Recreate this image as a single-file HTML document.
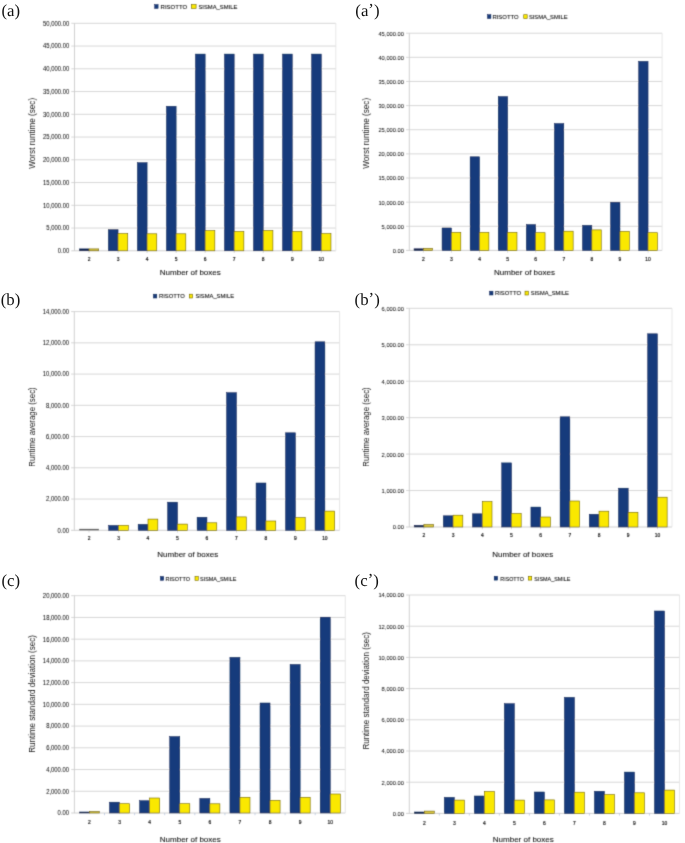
<!DOCTYPE html>
<html><head><meta charset="utf-8"><style>
html,body{margin:0;padding:0;background:#fff;}
body{width:685px;height:843px;overflow:hidden;}
svg{display:block;}

.pl{font-family:"Liberation Serif",serif;stroke:none;fill:#111;text-rendering:geometricPrecision;}
text{font-family:"Liberation Sans",sans-serif;fill:#1a1a1a;}
.yl{fill:#1e1e1e;stroke:#1e1e1e;stroke-width:0.06px;}
.xl{fill:#111;stroke:#111;stroke-width:0.2px;}
.tt{fill:#151515;stroke:#151515;stroke-width:0.1px;}
.yt{fill:#1a1a1a;}
.lg{fill:#1a1a1a;stroke:#1a1a1a;stroke-width:0.12px;}
</style></head><body>
<svg width="685" height="843" viewBox="0 0 685 843">
<defs><filter id="bl" x="0" y="0" width="100%" height="100%" filterUnits="userSpaceOnUse"><feConvolveMatrix order="3" kernelMatrix="0.0367 0.1915 0.0367 0.1915 1 0.1915 0.0367 0.1915 0.0367" divisor="1.9127" edgeMode="none" preserveAlpha="false"/></filter><filter id="id0" x="0" y="0" width="100%" height="100%" filterUnits="userSpaceOnUse"><feOffset dx="0" dy="0"/></filter></defs>
<rect width="685" height="843" fill="#fff"/>
<g id="g" filter="url(#bl)">
<line x1="71.30" y1="250.80" x2="335.80" y2="250.80" stroke="#cccccc" stroke-width="0.9"/>
<text class="yl" x="69.20" y="253.20" text-anchor="end" font-size="6.37" textLength="11.48" lengthAdjust="spacingAndGlyphs">0.00</text>
<line x1="71.30" y1="228.05" x2="335.80" y2="228.05" stroke="#d2d2d2" stroke-width="0.9"/>
<text class="yl" x="69.20" y="230.45" text-anchor="end" font-size="6.37" textLength="22.96" lengthAdjust="spacingAndGlyphs">5,000.00</text>
<line x1="71.30" y1="205.30" x2="335.80" y2="205.30" stroke="#d2d2d2" stroke-width="0.9"/>
<text class="yl" x="69.20" y="207.70" text-anchor="end" font-size="6.37" textLength="26.24" lengthAdjust="spacingAndGlyphs">10,000.00</text>
<line x1="71.30" y1="182.55" x2="335.80" y2="182.55" stroke="#d2d2d2" stroke-width="0.9"/>
<text class="yl" x="69.20" y="184.95" text-anchor="end" font-size="6.37" textLength="26.24" lengthAdjust="spacingAndGlyphs">15,000.00</text>
<line x1="71.30" y1="159.80" x2="335.80" y2="159.80" stroke="#d2d2d2" stroke-width="0.9"/>
<text class="yl" x="69.20" y="162.20" text-anchor="end" font-size="6.37" textLength="26.24" lengthAdjust="spacingAndGlyphs">20,000.00</text>
<line x1="71.30" y1="137.05" x2="335.80" y2="137.05" stroke="#d2d2d2" stroke-width="0.9"/>
<text class="yl" x="69.20" y="139.45" text-anchor="end" font-size="6.37" textLength="26.24" lengthAdjust="spacingAndGlyphs">25,000.00</text>
<line x1="71.30" y1="114.30" x2="335.80" y2="114.30" stroke="#d2d2d2" stroke-width="0.9"/>
<text class="yl" x="69.20" y="116.70" text-anchor="end" font-size="6.37" textLength="26.24" lengthAdjust="spacingAndGlyphs">30,000.00</text>
<line x1="71.30" y1="91.55" x2="335.80" y2="91.55" stroke="#d2d2d2" stroke-width="0.9"/>
<text class="yl" x="69.20" y="93.95" text-anchor="end" font-size="6.37" textLength="26.24" lengthAdjust="spacingAndGlyphs">35,000.00</text>
<line x1="71.30" y1="68.80" x2="335.80" y2="68.80" stroke="#d2d2d2" stroke-width="0.9"/>
<text class="yl" x="69.20" y="71.20" text-anchor="end" font-size="6.37" textLength="26.24" lengthAdjust="spacingAndGlyphs">40,000.00</text>
<line x1="71.30" y1="46.05" x2="335.80" y2="46.05" stroke="#d2d2d2" stroke-width="0.9"/>
<text class="yl" x="69.20" y="48.45" text-anchor="end" font-size="6.37" textLength="26.24" lengthAdjust="spacingAndGlyphs">45,000.00</text>
<line x1="71.30" y1="23.30" x2="335.80" y2="23.30" stroke="#d2d2d2" stroke-width="0.9"/>
<text class="yl" x="69.20" y="25.70" text-anchor="end" font-size="6.37" textLength="26.24" lengthAdjust="spacingAndGlyphs">50,000.00</text>
<line x1="74.50" y1="23.30" x2="74.50" y2="250.80" stroke="#cccccc" stroke-width="0.9"/>
<line x1="335.80" y1="23.30" x2="335.80" y2="250.80" stroke="#e4e4e4" stroke-width="0.9"/>
<line x1="89.02" y1="250.80" x2="89.02" y2="253.00" stroke="#cfcfcf" stroke-width="0.8"/>
<line x1="118.05" y1="250.80" x2="118.05" y2="253.00" stroke="#cfcfcf" stroke-width="0.8"/>
<line x1="147.08" y1="250.80" x2="147.08" y2="253.00" stroke="#cfcfcf" stroke-width="0.8"/>
<line x1="176.12" y1="250.80" x2="176.12" y2="253.00" stroke="#cfcfcf" stroke-width="0.8"/>
<line x1="205.15" y1="250.80" x2="205.15" y2="253.00" stroke="#cfcfcf" stroke-width="0.8"/>
<line x1="234.18" y1="250.80" x2="234.18" y2="253.00" stroke="#cfcfcf" stroke-width="0.8"/>
<line x1="263.22" y1="250.80" x2="263.22" y2="253.00" stroke="#cfcfcf" stroke-width="0.8"/>
<line x1="292.25" y1="250.80" x2="292.25" y2="253.00" stroke="#cfcfcf" stroke-width="0.8"/>
<line x1="321.28" y1="250.80" x2="321.28" y2="253.00" stroke="#cfcfcf" stroke-width="0.8"/>
<rect x="79.34" y="248.90" width="9.68" height="1.90" fill="#11204a" stroke="#0e2250" stroke-width="0.5"/>
<rect x="89.02" y="248.90" width="9.68" height="1.90" fill="#d9c640" stroke="#6a5e08" stroke-width="0.6"/>
<text class="xl" x="89.02" y="260.60" text-anchor="middle" font-size="6.2" textLength="2.74" lengthAdjust="spacingAndGlyphs">2</text>
<rect x="108.37" y="229.50" width="9.68" height="21.30" fill="#173b7b" stroke="#0e2250" stroke-width="0.5"/>
<rect x="118.05" y="233.60" width="9.68" height="17.20" fill="#fae800" stroke="#6a5e08" stroke-width="0.6"/>
<text class="xl" x="118.05" y="260.60" text-anchor="middle" font-size="6.2" textLength="2.74" lengthAdjust="spacingAndGlyphs">3</text>
<rect x="137.41" y="162.70" width="9.68" height="88.10" fill="#173b7b" stroke="#0e2250" stroke-width="0.5"/>
<rect x="147.08" y="233.80" width="9.68" height="17.00" fill="#fae800" stroke="#6a5e08" stroke-width="0.6"/>
<text class="xl" x="147.08" y="260.60" text-anchor="middle" font-size="6.2" textLength="2.74" lengthAdjust="spacingAndGlyphs">4</text>
<rect x="166.44" y="106.30" width="9.68" height="144.50" fill="#173b7b" stroke="#0e2250" stroke-width="0.5"/>
<rect x="176.12" y="233.80" width="9.68" height="17.00" fill="#fae800" stroke="#6a5e08" stroke-width="0.6"/>
<text class="xl" x="176.12" y="260.60" text-anchor="middle" font-size="6.2" textLength="2.74" lengthAdjust="spacingAndGlyphs">5</text>
<rect x="195.47" y="54.10" width="9.68" height="196.70" fill="#173b7b" stroke="#0e2250" stroke-width="0.5"/>
<rect x="205.15" y="230.60" width="9.68" height="20.20" fill="#fae800" stroke="#6a5e08" stroke-width="0.6"/>
<text class="xl" x="205.15" y="260.60" text-anchor="middle" font-size="6.2" textLength="2.74" lengthAdjust="spacingAndGlyphs">6</text>
<rect x="224.51" y="54.10" width="9.68" height="196.70" fill="#173b7b" stroke="#0e2250" stroke-width="0.5"/>
<rect x="234.18" y="231.50" width="9.68" height="19.30" fill="#fae800" stroke="#6a5e08" stroke-width="0.6"/>
<text class="xl" x="234.18" y="260.60" text-anchor="middle" font-size="6.2" textLength="2.74" lengthAdjust="spacingAndGlyphs">7</text>
<rect x="253.54" y="54.10" width="9.68" height="196.70" fill="#173b7b" stroke="#0e2250" stroke-width="0.5"/>
<rect x="263.22" y="230.50" width="9.68" height="20.30" fill="#fae800" stroke="#6a5e08" stroke-width="0.6"/>
<text class="xl" x="263.22" y="260.60" text-anchor="middle" font-size="6.2" textLength="2.74" lengthAdjust="spacingAndGlyphs">8</text>
<rect x="282.57" y="54.10" width="9.68" height="196.70" fill="#173b7b" stroke="#0e2250" stroke-width="0.5"/>
<rect x="292.25" y="231.50" width="9.68" height="19.30" fill="#fae800" stroke="#6a5e08" stroke-width="0.6"/>
<text class="xl" x="292.25" y="260.60" text-anchor="middle" font-size="6.2" textLength="2.74" lengthAdjust="spacingAndGlyphs">9</text>
<rect x="311.61" y="54.10" width="9.68" height="196.70" fill="#173b7b" stroke="#0e2250" stroke-width="0.5"/>
<rect x="321.28" y="233.60" width="9.68" height="17.20" fill="#fae800" stroke="#6a5e08" stroke-width="0.6"/>
<text class="xl" x="321.28" y="260.60" text-anchor="middle" font-size="6.2" textLength="5.47" lengthAdjust="spacingAndGlyphs">10</text>
<text class="tt" x="190.30" y="275.30" text-anchor="middle" font-size="8">Number of boxes</text>
<text class="yt" transform="translate(34.80,133.30) rotate(-90)" text-anchor="middle" font-size="8.5" textLength="70.80" lengthAdjust="spacingAndGlyphs">Worst runtime (sec)</text>
<rect x="154.70" y="4.60" width="3.40" height="3.8" fill="#173b7b" stroke="#0e2250" stroke-width="0.5"/>
<text class="lg" x="160.60" y="8.80" font-size="6.2" textLength="26.60" lengthAdjust="spacingAndGlyphs">RISOTTO</text>
<rect x="191.30" y="4.60" width="4.80" height="3.8" fill="#fae800" stroke="#6a5e08" stroke-width="0.6"/>
<text class="lg" x="198.40" y="8.80" font-size="6.2" textLength="38.90" lengthAdjust="spacingAndGlyphs">SISMA_SMILE</text>
<line x1="406.10" y1="250.40" x2="662.10" y2="250.40" stroke="#cccccc" stroke-width="0.9"/>
<text class="yl" x="404.00" y="252.80" text-anchor="end" font-size="6.21" textLength="11.19" lengthAdjust="spacingAndGlyphs">0.00</text>
<line x1="406.10" y1="226.27" x2="662.10" y2="226.27" stroke="#d2d2d2" stroke-width="0.9"/>
<text class="yl" x="404.00" y="228.67" text-anchor="end" font-size="6.21" textLength="22.38" lengthAdjust="spacingAndGlyphs">5,000.00</text>
<line x1="406.10" y1="202.13" x2="662.10" y2="202.13" stroke="#d2d2d2" stroke-width="0.9"/>
<text class="yl" x="404.00" y="204.53" text-anchor="end" font-size="6.21" textLength="25.58" lengthAdjust="spacingAndGlyphs">10,000.00</text>
<line x1="406.10" y1="178.00" x2="662.10" y2="178.00" stroke="#d2d2d2" stroke-width="0.9"/>
<text class="yl" x="404.00" y="180.40" text-anchor="end" font-size="6.21" textLength="25.58" lengthAdjust="spacingAndGlyphs">15,000.00</text>
<line x1="406.10" y1="153.87" x2="662.10" y2="153.87" stroke="#d2d2d2" stroke-width="0.9"/>
<text class="yl" x="404.00" y="156.27" text-anchor="end" font-size="6.21" textLength="25.58" lengthAdjust="spacingAndGlyphs">20,000.00</text>
<line x1="406.10" y1="129.73" x2="662.10" y2="129.73" stroke="#d2d2d2" stroke-width="0.9"/>
<text class="yl" x="404.00" y="132.13" text-anchor="end" font-size="6.21" textLength="25.58" lengthAdjust="spacingAndGlyphs">25,000.00</text>
<line x1="406.10" y1="105.60" x2="662.10" y2="105.60" stroke="#d2d2d2" stroke-width="0.9"/>
<text class="yl" x="404.00" y="108.00" text-anchor="end" font-size="6.21" textLength="25.58" lengthAdjust="spacingAndGlyphs">30,000.00</text>
<line x1="406.10" y1="81.47" x2="662.10" y2="81.47" stroke="#d2d2d2" stroke-width="0.9"/>
<text class="yl" x="404.00" y="83.87" text-anchor="end" font-size="6.21" textLength="25.58" lengthAdjust="spacingAndGlyphs">35,000.00</text>
<line x1="406.10" y1="57.33" x2="662.10" y2="57.33" stroke="#d2d2d2" stroke-width="0.9"/>
<text class="yl" x="404.00" y="59.73" text-anchor="end" font-size="6.21" textLength="25.58" lengthAdjust="spacingAndGlyphs">40,000.00</text>
<line x1="406.10" y1="33.20" x2="662.10" y2="33.20" stroke="#d2d2d2" stroke-width="0.9"/>
<text class="yl" x="404.00" y="35.60" text-anchor="end" font-size="6.21" textLength="25.58" lengthAdjust="spacingAndGlyphs">45,000.00</text>
<line x1="409.30" y1="33.20" x2="409.30" y2="250.40" stroke="#cccccc" stroke-width="0.9"/>
<line x1="662.10" y1="33.20" x2="662.10" y2="250.40" stroke="#e4e4e4" stroke-width="0.9"/>
<line x1="423.34" y1="250.40" x2="423.34" y2="252.60" stroke="#cfcfcf" stroke-width="0.8"/>
<line x1="451.43" y1="250.40" x2="451.43" y2="252.60" stroke="#cfcfcf" stroke-width="0.8"/>
<line x1="479.52" y1="250.40" x2="479.52" y2="252.60" stroke="#cfcfcf" stroke-width="0.8"/>
<line x1="507.61" y1="250.40" x2="507.61" y2="252.60" stroke="#cfcfcf" stroke-width="0.8"/>
<line x1="535.70" y1="250.40" x2="535.70" y2="252.60" stroke="#cfcfcf" stroke-width="0.8"/>
<line x1="563.79" y1="250.40" x2="563.79" y2="252.60" stroke="#cfcfcf" stroke-width="0.8"/>
<line x1="591.88" y1="250.40" x2="591.88" y2="252.60" stroke="#cfcfcf" stroke-width="0.8"/>
<line x1="619.97" y1="250.40" x2="619.97" y2="252.60" stroke="#cfcfcf" stroke-width="0.8"/>
<line x1="648.06" y1="250.40" x2="648.06" y2="252.60" stroke="#cfcfcf" stroke-width="0.8"/>
<rect x="413.98" y="248.80" width="9.36" height="1.60" fill="#11204a" stroke="#0e2250" stroke-width="0.5"/>
<rect x="423.34" y="248.40" width="9.36" height="2.00" fill="#d9c640" stroke="#6a5e08" stroke-width="0.6"/>
<text class="xl" x="423.34" y="260.60" text-anchor="middle" font-size="6.2" textLength="2.74" lengthAdjust="spacingAndGlyphs">2</text>
<rect x="442.07" y="227.90" width="9.36" height="22.50" fill="#173b7b" stroke="#0e2250" stroke-width="0.5"/>
<rect x="451.43" y="232.40" width="9.36" height="18.00" fill="#fae800" stroke="#6a5e08" stroke-width="0.6"/>
<text class="xl" x="451.43" y="260.60" text-anchor="middle" font-size="6.2" textLength="2.74" lengthAdjust="spacingAndGlyphs">3</text>
<rect x="470.16" y="156.80" width="9.36" height="93.60" fill="#173b7b" stroke="#0e2250" stroke-width="0.5"/>
<rect x="479.52" y="232.40" width="9.36" height="18.00" fill="#fae800" stroke="#6a5e08" stroke-width="0.6"/>
<text class="xl" x="479.52" y="260.60" text-anchor="middle" font-size="6.2" textLength="2.74" lengthAdjust="spacingAndGlyphs">4</text>
<rect x="498.25" y="96.60" width="9.36" height="153.80" fill="#173b7b" stroke="#0e2250" stroke-width="0.5"/>
<rect x="507.61" y="232.40" width="9.36" height="18.00" fill="#fae800" stroke="#6a5e08" stroke-width="0.6"/>
<text class="xl" x="507.61" y="260.60" text-anchor="middle" font-size="6.2" textLength="2.74" lengthAdjust="spacingAndGlyphs">5</text>
<rect x="526.34" y="224.60" width="9.36" height="25.80" fill="#173b7b" stroke="#0e2250" stroke-width="0.5"/>
<rect x="535.70" y="232.70" width="9.36" height="17.70" fill="#fae800" stroke="#6a5e08" stroke-width="0.6"/>
<text class="xl" x="535.70" y="260.60" text-anchor="middle" font-size="6.2" textLength="2.74" lengthAdjust="spacingAndGlyphs">6</text>
<rect x="554.43" y="123.60" width="9.36" height="126.80" fill="#173b7b" stroke="#0e2250" stroke-width="0.5"/>
<rect x="563.79" y="231.20" width="9.36" height="19.20" fill="#fae800" stroke="#6a5e08" stroke-width="0.6"/>
<text class="xl" x="563.79" y="260.60" text-anchor="middle" font-size="6.2" textLength="2.74" lengthAdjust="spacingAndGlyphs">7</text>
<rect x="582.51" y="225.40" width="9.36" height="25.00" fill="#173b7b" stroke="#0e2250" stroke-width="0.5"/>
<rect x="591.88" y="229.90" width="9.36" height="20.50" fill="#fae800" stroke="#6a5e08" stroke-width="0.6"/>
<text class="xl" x="591.88" y="260.60" text-anchor="middle" font-size="6.2" textLength="2.74" lengthAdjust="spacingAndGlyphs">8</text>
<rect x="610.60" y="202.20" width="9.36" height="48.20" fill="#173b7b" stroke="#0e2250" stroke-width="0.5"/>
<rect x="619.97" y="231.40" width="9.36" height="19.00" fill="#fae800" stroke="#6a5e08" stroke-width="0.6"/>
<text class="xl" x="619.97" y="260.60" text-anchor="middle" font-size="6.2" textLength="2.74" lengthAdjust="spacingAndGlyphs">9</text>
<rect x="638.69" y="61.40" width="9.36" height="189.00" fill="#173b7b" stroke="#0e2250" stroke-width="0.5"/>
<rect x="648.06" y="232.70" width="9.36" height="17.70" fill="#fae800" stroke="#6a5e08" stroke-width="0.6"/>
<text class="xl" x="648.06" y="260.60" text-anchor="middle" font-size="6.2" textLength="5.47" lengthAdjust="spacingAndGlyphs">10</text>
<text class="tt" x="524.50" y="275.30" text-anchor="middle" font-size="8">Number of boxes</text>
<text class="yt" transform="translate(368.80,133.30) rotate(-90)" text-anchor="middle" font-size="8.5" textLength="70.80" lengthAdjust="spacingAndGlyphs">Worst runtime (sec)</text>
<rect x="487.50" y="14.70" width="3.40" height="3.8" fill="#173b7b" stroke="#0e2250" stroke-width="0.5"/>
<text class="lg" x="492.40" y="18.90" font-size="6.2" textLength="26.30" lengthAdjust="spacingAndGlyphs">RISOTTO</text>
<rect x="523.70" y="14.70" width="3.50" height="3.8" fill="#fae800" stroke="#6a5e08" stroke-width="0.6"/>
<text class="lg" x="528.90" y="18.90" font-size="6.2" textLength="38.60" lengthAdjust="spacingAndGlyphs">SISMA_SMILE</text>
<line x1="71.10" y1="530.30" x2="339.60" y2="530.30" stroke="#cccccc" stroke-width="0.9"/>
<text class="yl" x="69.00" y="532.70" text-anchor="end" font-size="6.37" textLength="11.48" lengthAdjust="spacingAndGlyphs">0.00</text>
<line x1="71.10" y1="499.06" x2="339.60" y2="499.06" stroke="#d2d2d2" stroke-width="0.9"/>
<text class="yl" x="69.00" y="501.46" text-anchor="end" font-size="6.37" textLength="22.96" lengthAdjust="spacingAndGlyphs">2,000.00</text>
<line x1="71.10" y1="467.81" x2="339.60" y2="467.81" stroke="#d2d2d2" stroke-width="0.9"/>
<text class="yl" x="69.00" y="470.21" text-anchor="end" font-size="6.37" textLength="22.96" lengthAdjust="spacingAndGlyphs">4,000.00</text>
<line x1="71.10" y1="436.57" x2="339.60" y2="436.57" stroke="#d2d2d2" stroke-width="0.9"/>
<text class="yl" x="69.00" y="438.97" text-anchor="end" font-size="6.37" textLength="22.96" lengthAdjust="spacingAndGlyphs">6,000.00</text>
<line x1="71.10" y1="405.33" x2="339.60" y2="405.33" stroke="#d2d2d2" stroke-width="0.9"/>
<text class="yl" x="69.00" y="407.73" text-anchor="end" font-size="6.37" textLength="22.96" lengthAdjust="spacingAndGlyphs">8,000.00</text>
<line x1="71.10" y1="374.09" x2="339.60" y2="374.09" stroke="#d2d2d2" stroke-width="0.9"/>
<text class="yl" x="69.00" y="376.49" text-anchor="end" font-size="6.37" textLength="26.24" lengthAdjust="spacingAndGlyphs">10,000.00</text>
<line x1="71.10" y1="342.84" x2="339.60" y2="342.84" stroke="#d2d2d2" stroke-width="0.9"/>
<text class="yl" x="69.00" y="345.24" text-anchor="end" font-size="6.37" textLength="26.24" lengthAdjust="spacingAndGlyphs">12,000.00</text>
<line x1="71.10" y1="311.60" x2="339.60" y2="311.60" stroke="#d2d2d2" stroke-width="0.9"/>
<text class="yl" x="69.00" y="314.00" text-anchor="end" font-size="6.37" textLength="26.24" lengthAdjust="spacingAndGlyphs">14,000.00</text>
<line x1="74.30" y1="311.60" x2="74.30" y2="530.30" stroke="#cccccc" stroke-width="0.9"/>
<line x1="339.60" y1="311.60" x2="339.60" y2="530.30" stroke="#e4e4e4" stroke-width="0.9"/>
<line x1="89.04" y1="530.30" x2="89.04" y2="532.50" stroke="#cfcfcf" stroke-width="0.8"/>
<line x1="118.52" y1="530.30" x2="118.52" y2="532.50" stroke="#cfcfcf" stroke-width="0.8"/>
<line x1="147.99" y1="530.30" x2="147.99" y2="532.50" stroke="#cfcfcf" stroke-width="0.8"/>
<line x1="177.47" y1="530.30" x2="177.47" y2="532.50" stroke="#cfcfcf" stroke-width="0.8"/>
<line x1="206.95" y1="530.30" x2="206.95" y2="532.50" stroke="#cfcfcf" stroke-width="0.8"/>
<line x1="236.43" y1="530.30" x2="236.43" y2="532.50" stroke="#cfcfcf" stroke-width="0.8"/>
<line x1="265.91" y1="530.30" x2="265.91" y2="532.50" stroke="#cfcfcf" stroke-width="0.8"/>
<line x1="295.38" y1="530.30" x2="295.38" y2="532.50" stroke="#cfcfcf" stroke-width="0.8"/>
<line x1="324.86" y1="530.30" x2="324.86" y2="532.50" stroke="#cfcfcf" stroke-width="0.8"/>
<rect x="79.21" y="528.90" width="19.65" height="1.40" fill="#5e5e5e"/>
<text class="xl" x="89.04" y="539.80" text-anchor="middle" font-size="6.2" textLength="2.74" lengthAdjust="spacingAndGlyphs">2</text>
<rect x="108.69" y="525.50" width="9.83" height="4.80" fill="#173b7b" stroke="#0e2250" stroke-width="0.5"/>
<rect x="118.52" y="525.40" width="9.83" height="4.90" fill="#fae800" stroke="#6a5e08" stroke-width="0.6"/>
<text class="xl" x="118.52" y="539.80" text-anchor="middle" font-size="6.2" textLength="2.74" lengthAdjust="spacingAndGlyphs">3</text>
<rect x="138.17" y="524.40" width="9.83" height="5.90" fill="#173b7b" stroke="#0e2250" stroke-width="0.5"/>
<rect x="147.99" y="519.10" width="9.83" height="11.20" fill="#fae800" stroke="#6a5e08" stroke-width="0.6"/>
<text class="xl" x="147.99" y="539.80" text-anchor="middle" font-size="6.2" textLength="2.74" lengthAdjust="spacingAndGlyphs">4</text>
<rect x="167.65" y="502.20" width="9.83" height="28.10" fill="#173b7b" stroke="#0e2250" stroke-width="0.5"/>
<rect x="177.47" y="524.10" width="9.83" height="6.20" fill="#fae800" stroke="#6a5e08" stroke-width="0.6"/>
<text class="xl" x="177.47" y="539.80" text-anchor="middle" font-size="6.2" textLength="2.74" lengthAdjust="spacingAndGlyphs">5</text>
<rect x="197.12" y="517.30" width="9.83" height="13.00" fill="#173b7b" stroke="#0e2250" stroke-width="0.5"/>
<rect x="206.95" y="522.80" width="9.83" height="7.50" fill="#fae800" stroke="#6a5e08" stroke-width="0.6"/>
<text class="xl" x="206.95" y="539.80" text-anchor="middle" font-size="6.2" textLength="2.74" lengthAdjust="spacingAndGlyphs">6</text>
<rect x="226.60" y="392.70" width="9.83" height="137.60" fill="#173b7b" stroke="#0e2250" stroke-width="0.5"/>
<rect x="236.43" y="516.90" width="9.83" height="13.40" fill="#fae800" stroke="#6a5e08" stroke-width="0.6"/>
<text class="xl" x="236.43" y="539.80" text-anchor="middle" font-size="6.2" textLength="2.74" lengthAdjust="spacingAndGlyphs">7</text>
<rect x="256.08" y="483.00" width="9.83" height="47.30" fill="#173b7b" stroke="#0e2250" stroke-width="0.5"/>
<rect x="265.91" y="521.00" width="9.83" height="9.30" fill="#fae800" stroke="#6a5e08" stroke-width="0.6"/>
<text class="xl" x="265.91" y="539.80" text-anchor="middle" font-size="6.2" textLength="2.74" lengthAdjust="spacingAndGlyphs">8</text>
<rect x="285.56" y="432.80" width="9.83" height="97.50" fill="#173b7b" stroke="#0e2250" stroke-width="0.5"/>
<rect x="295.38" y="517.60" width="9.83" height="12.70" fill="#fae800" stroke="#6a5e08" stroke-width="0.6"/>
<text class="xl" x="295.38" y="539.80" text-anchor="middle" font-size="6.2" textLength="2.74" lengthAdjust="spacingAndGlyphs">9</text>
<rect x="315.04" y="341.80" width="9.83" height="188.50" fill="#173b7b" stroke="#0e2250" stroke-width="0.5"/>
<rect x="324.86" y="511.10" width="9.83" height="19.20" fill="#fae800" stroke="#6a5e08" stroke-width="0.6"/>
<text class="xl" x="324.86" y="539.80" text-anchor="middle" font-size="6.2" textLength="5.47" lengthAdjust="spacingAndGlyphs">10</text>
<text class="tt" x="187.80" y="557.30" text-anchor="middle" font-size="8">Number of boxes</text>
<text class="yt" transform="translate(34.80,427.05) rotate(-90)" text-anchor="middle" font-size="8.5" textLength="79.50" lengthAdjust="spacingAndGlyphs">Runtime average (sec)</text>
<rect x="153.40" y="294.20" width="3.40" height="3.8" fill="#173b7b" stroke="#0e2250" stroke-width="0.5"/>
<text class="lg" x="158.90" y="298.40" font-size="6.2" textLength="26.00" lengthAdjust="spacingAndGlyphs">RISOTTO</text>
<rect x="189.30" y="294.20" width="3.30" height="3.8" fill="#fae800" stroke="#6a5e08" stroke-width="0.6"/>
<text class="lg" x="195.40" y="298.40" font-size="6.2" textLength="38.60" lengthAdjust="spacingAndGlyphs">SISMA_SMILE</text>
<line x1="406.10" y1="527.00" x2="672.00" y2="527.00" stroke="#cccccc" stroke-width="0.9"/>
<text class="yl" x="404.00" y="529.40" text-anchor="end" font-size="6.21" textLength="11.19" lengthAdjust="spacingAndGlyphs">0.00</text>
<line x1="406.10" y1="490.55" x2="672.00" y2="490.55" stroke="#d2d2d2" stroke-width="0.9"/>
<text class="yl" x="404.00" y="492.95" text-anchor="end" font-size="6.21" textLength="22.38" lengthAdjust="spacingAndGlyphs">1,000.00</text>
<line x1="406.10" y1="454.10" x2="672.00" y2="454.10" stroke="#d2d2d2" stroke-width="0.9"/>
<text class="yl" x="404.00" y="456.50" text-anchor="end" font-size="6.21" textLength="22.38" lengthAdjust="spacingAndGlyphs">2,000.00</text>
<line x1="406.10" y1="417.65" x2="672.00" y2="417.65" stroke="#d2d2d2" stroke-width="0.9"/>
<text class="yl" x="404.00" y="420.05" text-anchor="end" font-size="6.21" textLength="22.38" lengthAdjust="spacingAndGlyphs">3,000.00</text>
<line x1="406.10" y1="381.20" x2="672.00" y2="381.20" stroke="#d2d2d2" stroke-width="0.9"/>
<text class="yl" x="404.00" y="383.60" text-anchor="end" font-size="6.21" textLength="22.38" lengthAdjust="spacingAndGlyphs">4,000.00</text>
<line x1="406.10" y1="344.75" x2="672.00" y2="344.75" stroke="#d2d2d2" stroke-width="0.9"/>
<text class="yl" x="404.00" y="347.15" text-anchor="end" font-size="6.21" textLength="22.38" lengthAdjust="spacingAndGlyphs">5,000.00</text>
<line x1="406.10" y1="308.30" x2="672.00" y2="308.30" stroke="#d2d2d2" stroke-width="0.9"/>
<text class="yl" x="404.00" y="310.70" text-anchor="end" font-size="6.21" textLength="22.38" lengthAdjust="spacingAndGlyphs">6,000.00</text>
<line x1="409.30" y1="308.30" x2="409.30" y2="527.00" stroke="#cccccc" stroke-width="0.9"/>
<line x1="672.00" y1="308.30" x2="672.00" y2="527.00" stroke="#e4e4e4" stroke-width="0.9"/>
<line x1="423.89" y1="527.00" x2="423.89" y2="529.20" stroke="#cfcfcf" stroke-width="0.8"/>
<line x1="453.08" y1="527.00" x2="453.08" y2="529.20" stroke="#cfcfcf" stroke-width="0.8"/>
<line x1="482.27" y1="527.00" x2="482.27" y2="529.20" stroke="#cfcfcf" stroke-width="0.8"/>
<line x1="511.46" y1="527.00" x2="511.46" y2="529.20" stroke="#cfcfcf" stroke-width="0.8"/>
<line x1="540.65" y1="527.00" x2="540.65" y2="529.20" stroke="#cfcfcf" stroke-width="0.8"/>
<line x1="569.84" y1="527.00" x2="569.84" y2="529.20" stroke="#cfcfcf" stroke-width="0.8"/>
<line x1="599.03" y1="527.00" x2="599.03" y2="529.20" stroke="#cfcfcf" stroke-width="0.8"/>
<line x1="628.22" y1="527.00" x2="628.22" y2="529.20" stroke="#cfcfcf" stroke-width="0.8"/>
<line x1="657.41" y1="527.00" x2="657.41" y2="529.20" stroke="#cfcfcf" stroke-width="0.8"/>
<rect x="414.16" y="525.40" width="9.73" height="1.60" fill="#11204a" stroke="#0e2250" stroke-width="0.5"/>
<rect x="423.89" y="524.50" width="9.73" height="2.50" fill="#d9c640" stroke="#6a5e08" stroke-width="0.6"/>
<text class="xl" x="423.89" y="537.10" text-anchor="middle" font-size="6.2" textLength="2.74" lengthAdjust="spacingAndGlyphs">2</text>
<rect x="443.35" y="515.80" width="9.73" height="11.20" fill="#173b7b" stroke="#0e2250" stroke-width="0.5"/>
<rect x="453.08" y="515.20" width="9.73" height="11.80" fill="#fae800" stroke="#6a5e08" stroke-width="0.6"/>
<text class="xl" x="453.08" y="537.10" text-anchor="middle" font-size="6.2" textLength="2.74" lengthAdjust="spacingAndGlyphs">3</text>
<rect x="472.54" y="513.80" width="9.73" height="13.20" fill="#173b7b" stroke="#0e2250" stroke-width="0.5"/>
<rect x="482.27" y="501.60" width="9.73" height="25.40" fill="#fae800" stroke="#6a5e08" stroke-width="0.6"/>
<text class="xl" x="482.27" y="537.10" text-anchor="middle" font-size="6.2" textLength="2.74" lengthAdjust="spacingAndGlyphs">4</text>
<rect x="501.73" y="462.90" width="9.73" height="64.10" fill="#173b7b" stroke="#0e2250" stroke-width="0.5"/>
<rect x="511.46" y="513.50" width="9.73" height="13.50" fill="#fae800" stroke="#6a5e08" stroke-width="0.6"/>
<text class="xl" x="511.46" y="537.10" text-anchor="middle" font-size="6.2" textLength="2.74" lengthAdjust="spacingAndGlyphs">5</text>
<rect x="530.92" y="507.10" width="9.73" height="19.90" fill="#173b7b" stroke="#0e2250" stroke-width="0.5"/>
<rect x="540.65" y="517.00" width="9.73" height="10.00" fill="#fae800" stroke="#6a5e08" stroke-width="0.6"/>
<text class="xl" x="540.65" y="537.10" text-anchor="middle" font-size="6.2" textLength="2.74" lengthAdjust="spacingAndGlyphs">6</text>
<rect x="560.11" y="416.80" width="9.73" height="110.20" fill="#173b7b" stroke="#0e2250" stroke-width="0.5"/>
<rect x="569.84" y="501.00" width="9.73" height="26.00" fill="#fae800" stroke="#6a5e08" stroke-width="0.6"/>
<text class="xl" x="569.84" y="537.10" text-anchor="middle" font-size="6.2" textLength="2.74" lengthAdjust="spacingAndGlyphs">7</text>
<rect x="589.30" y="514.30" width="9.73" height="12.70" fill="#173b7b" stroke="#0e2250" stroke-width="0.5"/>
<rect x="599.03" y="511.20" width="9.73" height="15.80" fill="#fae800" stroke="#6a5e08" stroke-width="0.6"/>
<text class="xl" x="599.03" y="537.10" text-anchor="middle" font-size="6.2" textLength="2.74" lengthAdjust="spacingAndGlyphs">8</text>
<rect x="618.49" y="488.20" width="9.73" height="38.80" fill="#173b7b" stroke="#0e2250" stroke-width="0.5"/>
<rect x="628.22" y="512.30" width="9.73" height="14.70" fill="#fae800" stroke="#6a5e08" stroke-width="0.6"/>
<text class="xl" x="628.22" y="537.10" text-anchor="middle" font-size="6.2" textLength="2.74" lengthAdjust="spacingAndGlyphs">9</text>
<rect x="647.68" y="333.80" width="9.73" height="193.20" fill="#173b7b" stroke="#0e2250" stroke-width="0.5"/>
<rect x="657.41" y="497.20" width="9.73" height="29.80" fill="#fae800" stroke="#6a5e08" stroke-width="0.6"/>
<text class="xl" x="657.41" y="537.10" text-anchor="middle" font-size="6.2" textLength="5.47" lengthAdjust="spacingAndGlyphs">10</text>
<text class="tt" x="522.70" y="557.30" text-anchor="middle" font-size="8">Number of boxes</text>
<text class="yt" transform="translate(368.80,427.05) rotate(-90)" text-anchor="middle" font-size="8.5" textLength="79.50" lengthAdjust="spacingAndGlyphs">Runtime average (sec)</text>
<rect x="489.60" y="291.20" width="3.40" height="3.8" fill="#173b7b" stroke="#0e2250" stroke-width="0.5"/>
<text class="lg" x="495.00" y="295.40" font-size="6.2" textLength="26.00" lengthAdjust="spacingAndGlyphs">RISOTTO</text>
<rect x="525.00" y="291.20" width="3.40" height="3.8" fill="#fae800" stroke="#6a5e08" stroke-width="0.6"/>
<text class="lg" x="530.70" y="295.40" font-size="6.2" textLength="38.20" lengthAdjust="spacingAndGlyphs">SISMA_SMILE</text>
<line x1="71.20" y1="813.00" x2="345.30" y2="813.00" stroke="#cccccc" stroke-width="0.9"/>
<text class="yl" x="69.10" y="815.40" text-anchor="end" font-size="6.37" textLength="11.48" lengthAdjust="spacingAndGlyphs">0.00</text>
<line x1="71.20" y1="791.27" x2="345.30" y2="791.27" stroke="#d2d2d2" stroke-width="0.9"/>
<text class="yl" x="69.10" y="793.67" text-anchor="end" font-size="6.37" textLength="22.96" lengthAdjust="spacingAndGlyphs">2,000.00</text>
<line x1="71.20" y1="769.54" x2="345.30" y2="769.54" stroke="#d2d2d2" stroke-width="0.9"/>
<text class="yl" x="69.10" y="771.94" text-anchor="end" font-size="6.37" textLength="22.96" lengthAdjust="spacingAndGlyphs">4,000.00</text>
<line x1="71.20" y1="747.81" x2="345.30" y2="747.81" stroke="#d2d2d2" stroke-width="0.9"/>
<text class="yl" x="69.10" y="750.21" text-anchor="end" font-size="6.37" textLength="22.96" lengthAdjust="spacingAndGlyphs">6,000.00</text>
<line x1="71.20" y1="726.08" x2="345.30" y2="726.08" stroke="#d2d2d2" stroke-width="0.9"/>
<text class="yl" x="69.10" y="728.48" text-anchor="end" font-size="6.37" textLength="22.96" lengthAdjust="spacingAndGlyphs">8,000.00</text>
<line x1="71.20" y1="704.35" x2="345.30" y2="704.35" stroke="#d2d2d2" stroke-width="0.9"/>
<text class="yl" x="69.10" y="706.75" text-anchor="end" font-size="6.37" textLength="26.24" lengthAdjust="spacingAndGlyphs">10,000.00</text>
<line x1="71.20" y1="682.62" x2="345.30" y2="682.62" stroke="#d2d2d2" stroke-width="0.9"/>
<text class="yl" x="69.10" y="685.02" text-anchor="end" font-size="6.37" textLength="26.24" lengthAdjust="spacingAndGlyphs">12,000.00</text>
<line x1="71.20" y1="660.89" x2="345.30" y2="660.89" stroke="#d2d2d2" stroke-width="0.9"/>
<text class="yl" x="69.10" y="663.29" text-anchor="end" font-size="6.37" textLength="26.24" lengthAdjust="spacingAndGlyphs">14,000.00</text>
<line x1="71.20" y1="639.16" x2="345.30" y2="639.16" stroke="#d2d2d2" stroke-width="0.9"/>
<text class="yl" x="69.10" y="641.56" text-anchor="end" font-size="6.37" textLength="26.24" lengthAdjust="spacingAndGlyphs">16,000.00</text>
<line x1="71.20" y1="617.43" x2="345.30" y2="617.43" stroke="#d2d2d2" stroke-width="0.9"/>
<text class="yl" x="69.10" y="619.83" text-anchor="end" font-size="6.37" textLength="26.24" lengthAdjust="spacingAndGlyphs">18,000.00</text>
<line x1="71.20" y1="595.70" x2="345.30" y2="595.70" stroke="#d2d2d2" stroke-width="0.9"/>
<text class="yl" x="69.10" y="598.10" text-anchor="end" font-size="6.37" textLength="26.24" lengthAdjust="spacingAndGlyphs">20,000.00</text>
<line x1="74.40" y1="595.70" x2="74.40" y2="813.00" stroke="#cccccc" stroke-width="0.9"/>
<line x1="345.30" y1="595.70" x2="345.30" y2="813.00" stroke="#e4e4e4" stroke-width="0.9"/>
<line x1="104.50" y1="813.00" x2="104.50" y2="815.20" stroke="#b9c7de" stroke-width="0.8"/>
<line x1="134.60" y1="813.00" x2="134.60" y2="815.20" stroke="#b9c7de" stroke-width="0.8"/>
<line x1="164.70" y1="813.00" x2="164.70" y2="815.20" stroke="#b9c7de" stroke-width="0.8"/>
<line x1="194.80" y1="813.00" x2="194.80" y2="815.20" stroke="#b9c7de" stroke-width="0.8"/>
<line x1="224.90" y1="813.00" x2="224.90" y2="815.20" stroke="#b9c7de" stroke-width="0.8"/>
<line x1="255.00" y1="813.00" x2="255.00" y2="815.20" stroke="#b9c7de" stroke-width="0.8"/>
<line x1="285.10" y1="813.00" x2="285.10" y2="815.20" stroke="#b9c7de" stroke-width="0.8"/>
<line x1="315.20" y1="813.00" x2="315.20" y2="815.20" stroke="#b9c7de" stroke-width="0.8"/>
<rect x="79.42" y="812.00" width="10.03" height="1.00" fill="#11204a" stroke="#0e2250" stroke-width="0.5"/>
<rect x="89.45" y="811.60" width="10.03" height="1.40" fill="#d9c640" stroke="#6a5e08" stroke-width="0.6"/>
<text class="xl" x="89.45" y="824.40" text-anchor="middle" font-size="6.2" textLength="2.74" lengthAdjust="spacingAndGlyphs">2</text>
<rect x="109.52" y="802.20" width="10.03" height="10.80" fill="#173b7b" stroke="#0e2250" stroke-width="0.5"/>
<rect x="119.55" y="803.70" width="10.03" height="9.30" fill="#fae800" stroke="#6a5e08" stroke-width="0.6"/>
<text class="xl" x="119.55" y="824.40" text-anchor="middle" font-size="6.2" textLength="2.74" lengthAdjust="spacingAndGlyphs">3</text>
<rect x="139.62" y="800.70" width="10.03" height="12.30" fill="#173b7b" stroke="#0e2250" stroke-width="0.5"/>
<rect x="149.65" y="798.00" width="10.03" height="15.00" fill="#fae800" stroke="#6a5e08" stroke-width="0.6"/>
<text class="xl" x="149.65" y="824.40" text-anchor="middle" font-size="6.2" textLength="2.74" lengthAdjust="spacingAndGlyphs">4</text>
<rect x="169.72" y="736.60" width="10.03" height="76.40" fill="#173b7b" stroke="#0e2250" stroke-width="0.5"/>
<rect x="179.75" y="803.70" width="10.03" height="9.30" fill="#fae800" stroke="#6a5e08" stroke-width="0.6"/>
<text class="xl" x="179.75" y="824.40" text-anchor="middle" font-size="6.2" textLength="2.74" lengthAdjust="spacingAndGlyphs">5</text>
<rect x="199.82" y="798.50" width="10.03" height="14.50" fill="#173b7b" stroke="#0e2250" stroke-width="0.5"/>
<rect x="209.85" y="803.80" width="10.03" height="9.20" fill="#fae800" stroke="#6a5e08" stroke-width="0.6"/>
<text class="xl" x="209.85" y="824.40" text-anchor="middle" font-size="6.2" textLength="2.74" lengthAdjust="spacingAndGlyphs">6</text>
<rect x="229.92" y="657.40" width="10.03" height="155.60" fill="#173b7b" stroke="#0e2250" stroke-width="0.5"/>
<rect x="239.95" y="797.30" width="10.03" height="15.70" fill="#fae800" stroke="#6a5e08" stroke-width="0.6"/>
<text class="xl" x="239.95" y="824.40" text-anchor="middle" font-size="6.2" textLength="2.74" lengthAdjust="spacingAndGlyphs">7</text>
<rect x="260.02" y="703.00" width="10.03" height="110.00" fill="#173b7b" stroke="#0e2250" stroke-width="0.5"/>
<rect x="270.05" y="800.30" width="10.03" height="12.70" fill="#fae800" stroke="#6a5e08" stroke-width="0.6"/>
<text class="xl" x="270.05" y="824.40" text-anchor="middle" font-size="6.2" textLength="2.74" lengthAdjust="spacingAndGlyphs">8</text>
<rect x="290.12" y="664.50" width="10.03" height="148.50" fill="#173b7b" stroke="#0e2250" stroke-width="0.5"/>
<rect x="300.15" y="797.30" width="10.03" height="15.70" fill="#fae800" stroke="#6a5e08" stroke-width="0.6"/>
<text class="xl" x="300.15" y="824.40" text-anchor="middle" font-size="6.2" textLength="2.74" lengthAdjust="spacingAndGlyphs">9</text>
<rect x="320.22" y="617.20" width="10.03" height="195.80" fill="#173b7b" stroke="#0e2250" stroke-width="0.5"/>
<rect x="330.25" y="794.00" width="10.03" height="19.00" fill="#fae800" stroke="#6a5e08" stroke-width="0.6"/>
<text class="xl" x="330.25" y="824.40" text-anchor="middle" font-size="6.2" textLength="5.47" lengthAdjust="spacingAndGlyphs">10</text>
<text class="tt" x="190.30" y="841.70" text-anchor="middle" font-size="8">Number of boxes</text>
<text class="yt" transform="translate(34.80,693.95) rotate(-90)" text-anchor="middle" font-size="8.5" textLength="117.70" lengthAdjust="spacingAndGlyphs">Runtime standard deviation (sec)</text>
<rect x="160.40" y="576.50" width="3.30" height="3.8" fill="#173b7b" stroke="#0e2250" stroke-width="0.5"/>
<text class="lg" x="165.50" y="580.70" font-size="6.2" textLength="24.60" lengthAdjust="spacingAndGlyphs">RISOTTO</text>
<rect x="195.00" y="576.50" width="3.30" height="3.8" fill="#fae800" stroke="#6a5e08" stroke-width="0.6"/>
<text class="lg" x="200.10" y="580.70" font-size="6.2" textLength="36.20" lengthAdjust="spacingAndGlyphs">SISMA_SMILE</text>
<line x1="406.10" y1="813.40" x2="679.50" y2="813.40" stroke="#cccccc" stroke-width="0.9"/>
<text class="yl" x="404.00" y="815.80" text-anchor="end" font-size="6.21" textLength="11.19" lengthAdjust="spacingAndGlyphs">0.00</text>
<line x1="406.10" y1="782.20" x2="679.50" y2="782.20" stroke="#d2d2d2" stroke-width="0.9"/>
<text class="yl" x="404.00" y="784.60" text-anchor="end" font-size="6.21" textLength="22.38" lengthAdjust="spacingAndGlyphs">2,000.00</text>
<line x1="406.10" y1="751.00" x2="679.50" y2="751.00" stroke="#d2d2d2" stroke-width="0.9"/>
<text class="yl" x="404.00" y="753.40" text-anchor="end" font-size="6.21" textLength="22.38" lengthAdjust="spacingAndGlyphs">4,000.00</text>
<line x1="406.10" y1="719.80" x2="679.50" y2="719.80" stroke="#d2d2d2" stroke-width="0.9"/>
<text class="yl" x="404.00" y="722.20" text-anchor="end" font-size="6.21" textLength="22.38" lengthAdjust="spacingAndGlyphs">6,000.00</text>
<line x1="406.10" y1="688.60" x2="679.50" y2="688.60" stroke="#d2d2d2" stroke-width="0.9"/>
<text class="yl" x="404.00" y="691.00" text-anchor="end" font-size="6.21" textLength="22.38" lengthAdjust="spacingAndGlyphs">8,000.00</text>
<line x1="406.10" y1="657.40" x2="679.50" y2="657.40" stroke="#d2d2d2" stroke-width="0.9"/>
<text class="yl" x="404.00" y="659.80" text-anchor="end" font-size="6.21" textLength="25.58" lengthAdjust="spacingAndGlyphs">10,000.00</text>
<line x1="406.10" y1="626.20" x2="679.50" y2="626.20" stroke="#d2d2d2" stroke-width="0.9"/>
<text class="yl" x="404.00" y="628.60" text-anchor="end" font-size="6.21" textLength="25.58" lengthAdjust="spacingAndGlyphs">12,000.00</text>
<line x1="406.10" y1="595.00" x2="679.50" y2="595.00" stroke="#d2d2d2" stroke-width="0.9"/>
<text class="yl" x="404.00" y="597.40" text-anchor="end" font-size="6.21" textLength="25.58" lengthAdjust="spacingAndGlyphs">14,000.00</text>
<line x1="409.30" y1="595.00" x2="409.30" y2="813.40" stroke="#cccccc" stroke-width="0.9"/>
<line x1="679.50" y1="595.00" x2="679.50" y2="813.40" stroke="#e4e4e4" stroke-width="0.9"/>
<line x1="439.32" y1="813.40" x2="439.32" y2="815.60" stroke="#b9c7de" stroke-width="0.8"/>
<line x1="469.34" y1="813.40" x2="469.34" y2="815.60" stroke="#b9c7de" stroke-width="0.8"/>
<line x1="499.37" y1="813.40" x2="499.37" y2="815.60" stroke="#b9c7de" stroke-width="0.8"/>
<line x1="529.39" y1="813.40" x2="529.39" y2="815.60" stroke="#b9c7de" stroke-width="0.8"/>
<line x1="559.41" y1="813.40" x2="559.41" y2="815.60" stroke="#b9c7de" stroke-width="0.8"/>
<line x1="589.43" y1="813.40" x2="589.43" y2="815.60" stroke="#b9c7de" stroke-width="0.8"/>
<line x1="619.46" y1="813.40" x2="619.46" y2="815.60" stroke="#b9c7de" stroke-width="0.8"/>
<line x1="649.48" y1="813.40" x2="649.48" y2="815.60" stroke="#b9c7de" stroke-width="0.8"/>
<rect x="414.30" y="812.00" width="10.01" height="1.40" fill="#11204a" stroke="#0e2250" stroke-width="0.5"/>
<rect x="424.31" y="811.10" width="10.01" height="2.30" fill="#d9c640" stroke="#6a5e08" stroke-width="0.6"/>
<text class="xl" x="424.31" y="824.80" text-anchor="middle" font-size="6.2" textLength="2.74" lengthAdjust="spacingAndGlyphs">2</text>
<rect x="444.33" y="797.40" width="10.01" height="16.00" fill="#173b7b" stroke="#0e2250" stroke-width="0.5"/>
<rect x="454.33" y="800.10" width="10.01" height="13.30" fill="#fae800" stroke="#6a5e08" stroke-width="0.6"/>
<text class="xl" x="454.33" y="824.80" text-anchor="middle" font-size="6.2" textLength="2.74" lengthAdjust="spacingAndGlyphs">3</text>
<rect x="474.35" y="796.00" width="10.01" height="17.40" fill="#173b7b" stroke="#0e2250" stroke-width="0.5"/>
<rect x="484.36" y="791.50" width="10.01" height="21.90" fill="#fae800" stroke="#6a5e08" stroke-width="0.6"/>
<text class="xl" x="484.36" y="824.80" text-anchor="middle" font-size="6.2" textLength="2.74" lengthAdjust="spacingAndGlyphs">4</text>
<rect x="504.37" y="703.70" width="10.01" height="109.70" fill="#173b7b" stroke="#0e2250" stroke-width="0.5"/>
<rect x="514.38" y="800.10" width="10.01" height="13.30" fill="#fae800" stroke="#6a5e08" stroke-width="0.6"/>
<text class="xl" x="514.38" y="824.80" text-anchor="middle" font-size="6.2" textLength="2.74" lengthAdjust="spacingAndGlyphs">5</text>
<rect x="534.39" y="792.00" width="10.01" height="21.40" fill="#173b7b" stroke="#0e2250" stroke-width="0.5"/>
<rect x="544.40" y="799.90" width="10.01" height="13.50" fill="#fae800" stroke="#6a5e08" stroke-width="0.6"/>
<text class="xl" x="544.40" y="824.80" text-anchor="middle" font-size="6.2" textLength="2.74" lengthAdjust="spacingAndGlyphs">6</text>
<rect x="564.41" y="697.40" width="10.01" height="116.00" fill="#173b7b" stroke="#0e2250" stroke-width="0.5"/>
<rect x="574.42" y="792.20" width="10.01" height="21.20" fill="#fae800" stroke="#6a5e08" stroke-width="0.6"/>
<text class="xl" x="574.42" y="824.80" text-anchor="middle" font-size="6.2" textLength="2.74" lengthAdjust="spacingAndGlyphs">7</text>
<rect x="594.44" y="791.30" width="10.01" height="22.10" fill="#173b7b" stroke="#0e2250" stroke-width="0.5"/>
<rect x="604.44" y="794.60" width="10.01" height="18.80" fill="#fae800" stroke="#6a5e08" stroke-width="0.6"/>
<text class="xl" x="604.44" y="824.80" text-anchor="middle" font-size="6.2" textLength="2.74" lengthAdjust="spacingAndGlyphs">8</text>
<rect x="624.46" y="772.10" width="10.01" height="41.30" fill="#173b7b" stroke="#0e2250" stroke-width="0.5"/>
<rect x="634.47" y="792.80" width="10.01" height="20.60" fill="#fae800" stroke="#6a5e08" stroke-width="0.6"/>
<text class="xl" x="634.47" y="824.80" text-anchor="middle" font-size="6.2" textLength="2.74" lengthAdjust="spacingAndGlyphs">9</text>
<rect x="654.48" y="611.00" width="10.01" height="202.40" fill="#173b7b" stroke="#0e2250" stroke-width="0.5"/>
<rect x="664.49" y="790.10" width="10.01" height="23.30" fill="#fae800" stroke="#6a5e08" stroke-width="0.6"/>
<text class="xl" x="664.49" y="824.80" text-anchor="middle" font-size="6.2" textLength="5.47" lengthAdjust="spacingAndGlyphs">10</text>
<text class="tt" x="523.30" y="841.70" text-anchor="middle" font-size="8">Number of boxes</text>
<text class="yt" transform="translate(368.80,690.80) rotate(-90)" text-anchor="middle" font-size="8.5" textLength="117.60" lengthAdjust="spacingAndGlyphs">Runtime standard deviation (sec)</text>
<rect x="494.20" y="576.30" width="3.40" height="3.8" fill="#173b7b" stroke="#0e2250" stroke-width="0.5"/>
<text class="lg" x="500.30" y="580.50" font-size="6.2" textLength="23.60" lengthAdjust="spacingAndGlyphs">RISOTTO</text>
<rect x="528.40" y="576.30" width="3.30" height="3.8" fill="#fae800" stroke="#6a5e08" stroke-width="0.6"/>
<text class="lg" x="534.30" y="580.50" font-size="6.2" textLength="36.10" lengthAdjust="spacingAndGlyphs">SISMA_SMILE</text>
</g>
<g filter="url(#id0)">
<text x="1.50" y="15.90" class="pl" font-size="16.8">(a)</text>
<text x="355.30" y="15.70" class="pl" font-size="16.8">(a<tspan dy="-1.0">’</tspan><tspan dy="1.0">)</tspan></text>
<text x="0.70" y="304.80" class="pl" font-size="16.8">(b)</text>
<text x="354.60" y="304.80" class="pl" font-size="16.8">(b<tspan dy="-1.0">’</tspan><tspan dy="1.0">)</tspan></text>
<text x="1.50" y="586.40" class="pl" font-size="16.8">(c)</text>
<text x="354.60" y="586.40" class="pl" font-size="16.8">(c<tspan dy="-1.0">’</tspan><tspan dy="1.0">)</tspan></text>
</g>
</svg>
</body></html>
